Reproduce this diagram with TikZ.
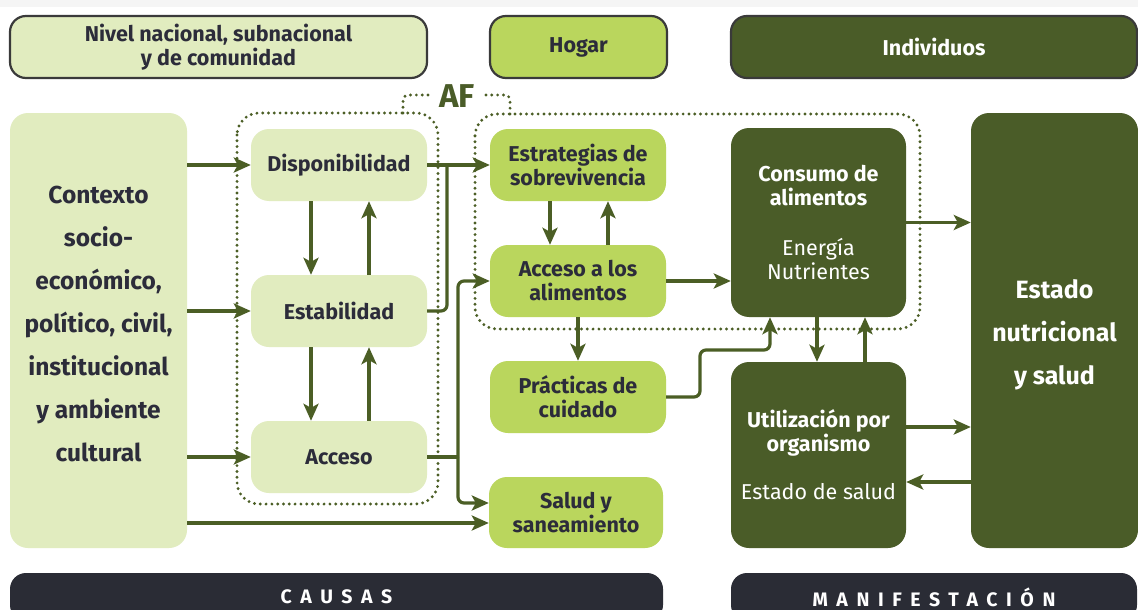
\documentclass[tikz,border=0pt]{standalone}
\usepackage{fontspec}
\setmainfont{Fira Sans}
\usetikzlibrary{arrows.meta}
\definecolor{lightg}{HTML}{E1ECBF}
\definecolor{midg}{HTML}{BAD65D}
\definecolor{darkg}{HTML}{4A5C28}
\definecolor{arrc}{HTML}{4B5E25}
\definecolor{navy}{HTML}{2A2C35}
\definecolor{txt}{HTML}{2C2C3A}
\definecolor{hdrline}{HTML}{3A3A3A}
\tikzset{
  box/.style={rounded corners=18pt, align=center, inner sep=0pt, text=txt,
    font=\bfseries\fontsize{21.5}{24}\selectfont},
  lbox/.style={box, fill=lightg},
  mbox/.style={box, fill=midg},
  dbox/.style={box, fill=darkg, text=white},
  hdr/.style={box, rounded corners=16pt, draw=hdrline, line width=2.2pt},
  bar/.style={rounded corners=16pt, fill=navy, text=white, inner sep=0pt,
    font=\bfseries\fontsize{19.5}{20}\selectfont\addfontfeatures{LetterSpace=44}},
  conn/.style={draw=arrc, line width=3.2pt},
  arr/.style={conn, -{Stealth[length=17pt,width=15pt,inset=4pt]}},
  dots/.style={draw=arrc, line width=3.2pt, dash pattern=on 0pt off 5.8pt, line cap=round},
}
\begin{document}
\begin{tikzpicture}[x=1pt,y=-1pt]
\useasboundingbox (0,0) rectangle (1138,610);
\begin{scope}
\clip (0,0) rectangle (1138,610);
\fill[white] (0,0) rectangle (1138,610);
\fill[gray!8] (0,0) rectangle (1138,7);
% headers
\node[hdr, fill=lightg, minimum width=417pt, minimum height=62pt] (hNivel) at (218.5,47) {Nivel nacional, subnacional\\y de comunidad};
\node[hdr, fill=midg, minimum width=177pt, minimum height=62pt] (hHogar) at (578.5,47) {Hogar};
\node[hdr, fill=darkg, text=white, minimum width=406pt, minimum height=62pt] (hInd) at (934,47) {Individuos};
% main nodes
\node[lbox, minimum width=177pt, minimum height=435pt, font=\bfseries\fontsize{24.5}{43}\selectfont] (ctx) at (98.5,330.5) {Contexto\\socio-\\económico,\\político, civil,\\institucional\\y ambiente\\cultural\rule[-14pt]{0pt}{14pt}};
\node[lbox, minimum width=176pt, minimum height=72pt] (disp) at (339,165) {Disponibilidad};
\node[lbox, minimum width=176pt, minimum height=72pt] (estab) at (339,311) {Estabilidad};
\node[lbox, minimum width=176pt, minimum height=72pt] (acc) at (339,457) {Acceso};
\node[mbox, minimum width=176pt, minimum height=72pt] (estr) at (578,165) {Estrategias de\\sobrevivencia};
\node[mbox, minimum width=176pt, minimum height=72pt] (accal) at (578,281) {Acceso a los\\alimentos};
\node[mbox, minimum width=176pt, minimum height=72pt] (prac) at (578,397) {Prácticas de\\cuidado};
\node[mbox, minimum width=174pt, minimum height=71pt] (salud) at (576,512.5) {Salud y\\saneamiento};
\node[dbox, minimum width=175pt, minimum height=189pt] (cons) at (818.5,222.5) {Consumo de\\alimentos\\[26pt]\mdseries Energía\\\mdseries Nutrientes};
\node[dbox, minimum width=175pt, minimum height=186pt] (util) at (818.5,455) {Utilización por\\organismo\\[24pt]\mdseries Estado de salud};
\node[dbox, minimum width=167pt, minimum height=435pt, font=\bfseries\fontsize{25}{43}\selectfont] (estado) at (1054.5,330.5) {\rule{0pt}{28pt}Estado\\nutricional\\y salud};
% bottom bars
\node[bar, minimum width=653pt, minimum height=48pt] (causas) at (336.5,597) {CAUSAS};
\node[bar, minimum width=406pt, minimum height=48pt] (manif) at (934,597) {MANIFESTACIÓN};
% dotted groups
\draw[dots, rounded corners=22pt] (237,113) rectangle (438,504);
\draw[dots, rounded corners=22pt] (475,114) rectangle (920,329);
\draw[dots, rounded corners=5pt] (403,113) -- (403,95) -- (428,95);
\draw[dots, rounded corners=5pt] (486,95) -- (510,95) -- (510,114);
\node[text=darkg, font=\bfseries\fontsize{33}{34}\selectfont, inner sep=0pt] (af) at (457,96) {AF};
% helper coordinates
\coordinate (j1) at (447,0);
\coordinate (j2) at (458,0);
\coordinate (pm) at (700,350);
\coordinate (sIn1) at ([yshift=9.5pt]salud.west);
\coordinate (sIn2) at ([yshift=-10.5pt]salud.west);
\coordinate (cIn) at ([xshift=-48.5pt]cons.south);
\coordinate (u1) at ([yshift=28pt]util.east);
\coordinate (u2) at ([yshift=-27pt]util.east);
% connectors
\draw[arr] (ctx.east |- disp.west) -- (disp.west);
\draw[arr] (ctx.east |- estab.west) -- (estab.west);
\draw[arr] (ctx.east |- acc.west) -- (acc.west);
\draw[arr] (ctx.east |- sIn2) -- (sIn2);
\draw[arr] ([xshift=-28pt]disp.south) -- ([xshift=-28pt]estab.north);
\draw[arr] ([xshift=30pt]estab.north) -- ([xshift=30pt]disp.south);
\draw[arr] ([xshift=-28pt]estab.south) -- ([xshift=-28pt]acc.north);
\draw[arr] ([xshift=30pt]acc.north) -- ([xshift=30pt]estab.south);
\draw[arr] (disp.east) -- (estr.west);
\draw[conn, rounded corners=6pt] (estab.east) -| (j1 |- disp.east);
\draw[conn] (acc.east) -- (acc.east -| j2);
\draw[arr, rounded corners=6pt] (acc.east -| j2) |- (accal.west);
\draw[arr, rounded corners=6pt] (acc.east -| j2) |- (sIn1);
\draw[arr] ([xshift=-28pt]estr.south) -- ([xshift=-28pt]accal.north);
\draw[arr] ([xshift=30pt]accal.north) -- ([xshift=30pt]estr.south);
\draw[arr] (accal.south) -- (prac.north);
\draw[arr] (accal.east) -- (accal.east -| cons.west);
\draw[arr, rounded corners=6pt] (prac.east) -| (pm) -| (cIn);
\draw[arr] ([xshift=-1.5pt]cons.south) -- ([xshift=-1.5pt]util.north);
\draw[arr] ([xshift=46.5pt]util.north) -- ([xshift=46.5pt]cons.south);
\draw[arr] (cons.east) -- (cons.east -| estado.west);
\draw[arr] (u1) -- (u1 -| estado.west);
\draw[arr] (u2 -| estado.west) -- (u2);
\end{scope}
\end{tikzpicture}
\end{document}
